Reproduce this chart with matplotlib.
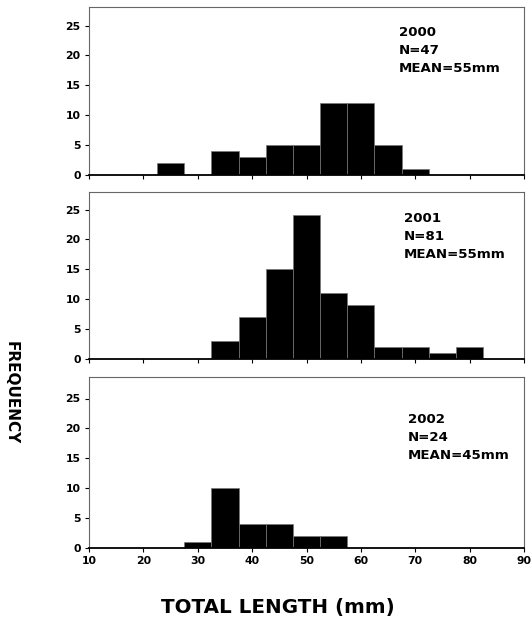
import matplotlib
matplotlib.use("Agg")
import matplotlib.pyplot as plt

plt.rcParams['font.family'] = ['DejaVu Sans']
plt.rcParams['font.weight'] = 'bold'

bin_centers = [25, 30, 35, 40, 45, 50, 55, 60, 65, 70, 75, 80]
freq_2000 = [2, 0, 4, 3, 5, 5, 12, 12, 5, 1, 0, 0]
freq_2001 = [0, 0, 3, 7, 15, 24, 11, 9, 2, 2, 1, 2]
freq_2002 = [0, 1, 10, 4, 4, 2, 2, 0, 0, 0, 0, 0]
labels = ["2000\nN=47\nMEAN=55mm", "2001\nN=81\nMEAN=55mm", "2002\nN=24\nMEAN=45mm"]
label_x = [67.0, 67.9, 68.6]
label_y = [24.9, 24.5, 22.5]
x_ticks = [10, 20, 30, 40, 50, 60, 70, 80, 90]
y_ticks = [0, 5, 10, 15, 20, 25]

W, H = 532, 619
fig = plt.figure(figsize=(W / 100, H / 100), dpi=100)

panels = [(7, 175), (192, 359), (377, 548)]
left, right = 89, 524
series = [freq_2000, freq_2001, freq_2002]

for i, ((top, bot), freqs) in enumerate(zip(panels, series)):
    ax = fig.add_axes([left / W, 1 - bot / H, (right - left) / W, (bot - top) / H])
    ax.bar(bin_centers, freqs, width=5, color='black', edgecolor='#777777',
           linewidth=0.5, align='center')
    ax.set_xlim(10, 90)
    ax.set_ylim(0, (bot - top) / 5.98)
    ax.set_xticks(x_ticks)
    ax.set_yticks(y_ticks)
    ax.tick_params(axis='both', direction='out', length=3, width=0.8,
                   labelsize=7.8, pad=3)
    for lab in ax.get_yticklabels() + ax.get_xticklabels():
        lab.set_fontweight('bold')
    if i < 2:
        ax.set_xticklabels([])
    for s in ['left', 'right', 'top']:
        ax.spines[s].set_color('#666666')
        ax.spines[s].set_linewidth(0.8)
    ax.spines['bottom'].set_color('black')
    ax.spines['bottom'].set_linewidth(1.3)
    ax.text(label_x[i], label_y[i], labels[i], fontsize=9.6, fontweight='bold',
            va='top', ha='left', linespacing=1.5)

fig.text(278 / W, 1 - 608 / H, "TOTAL LENGTH (mm)", fontsize=14.3,
         fontweight='bold', ha='center', va='center')
fig.text(11 / W, 1 - 393 / H, "FREQUENCY", fontsize=11, fontweight='bold',
         rotation=270, ha='center', va='center')

fig.savefig("out.png", dpi=100)
